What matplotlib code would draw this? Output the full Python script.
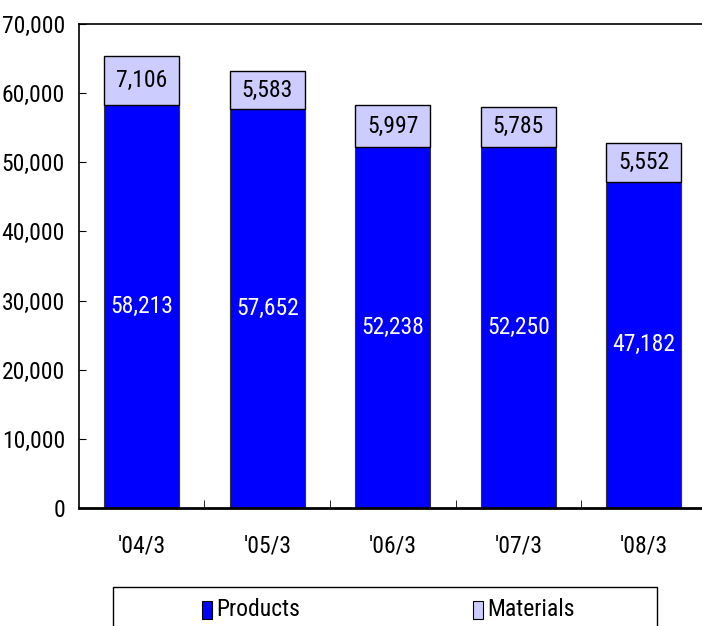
import matplotlib.pyplot as plt
from matplotlib.patches import Rectangle
from matplotlib.ticker import FuncFormatter

plt.rcParams['font.family'] = ['Roboto Condensed', 'Liberation Sans', 'DejaVu Sans']

periods = ["'04/3", "'05/3", "'06/3", "'07/3", "'08/3"]
products = [58213, 57652, 52238, 52250, 47182]
materials = [7106, 5583, 5997, 5785, 5552]
series_names = ['Products', 'Materials']
colors = ['#0000ff', '#ccccff']

fig = plt.figure(figsize=(7.02, 6.26), dpi=100)
ax = fig.add_axes([0.1125, 0.1885, 0.894, 0.7732])

x = range(len(periods))
ax.bar(x, products, width=0.6, color=colors[0], edgecolor='#333333', linewidth=0.8)
ax.bar(x, materials, width=0.6, bottom=products, color=colors[1], edgecolor='#000000', linewidth=1.0)

for i in x:
    ax.text(i, products[i] / 2, f"{products[i]:,}", ha='center', va='center', color='white', fontsize=17)
    ax.text(i, products[i] + materials[i] / 2, f"{materials[i]:,}", ha='center', va='center', color='black', fontsize=17)

ax.set_xlim(-0.5, 4.5)
ax.set_ylim(0, 70000)
ax.set_yticks(range(0, 70001, 10000))
ax.yaxis.set_major_formatter(FuncFormatter(lambda v, p: f"{int(v):,}"))
ax.tick_params(axis='y', direction='in', length=5, labelsize=17, pad=10)
ax.set_xticks(list(x))
ax.set_xticklabels(periods)
ax.set_xticks([0.5, 1.5, 2.5, 3.5], minor=True)
ax.tick_params(axis='x', which='major', length=0, labelsize=17, pad=19)
ax.tick_params(axis='x', which='minor', direction='in', length=6)
for s in ['top', 'left']:
    ax.spines[s].set_linewidth(1.2)
ax.spines['bottom'].set_linewidth(2)
ax.spines['right'].set_visible(False)

# legend box drawn by hand so each entry sits centred in its half
W, H = 702.0, 626.0
fig.add_artist(Rectangle((113 / W, -0.05), (657 - 113) / W, 0.05 + 1 - 587 / H,
                         transform=fig.transFigure, fill=False, edgecolor='black', linewidth=1.0))
for name, col, mx in zip(series_names, colors, [202, 473]):
    fig.add_artist(Rectangle((mx / W, 1 - 619 / H), 10 / W, 18 / H, transform=fig.transFigure,
                             facecolor=col, edgecolor='black', linewidth=0.8))
    fig.text((mx + 14) / W, 1 - 610 / H, name, ha='left', va='center', fontsize=17)

fig.savefig('out.png', dpi=100)
